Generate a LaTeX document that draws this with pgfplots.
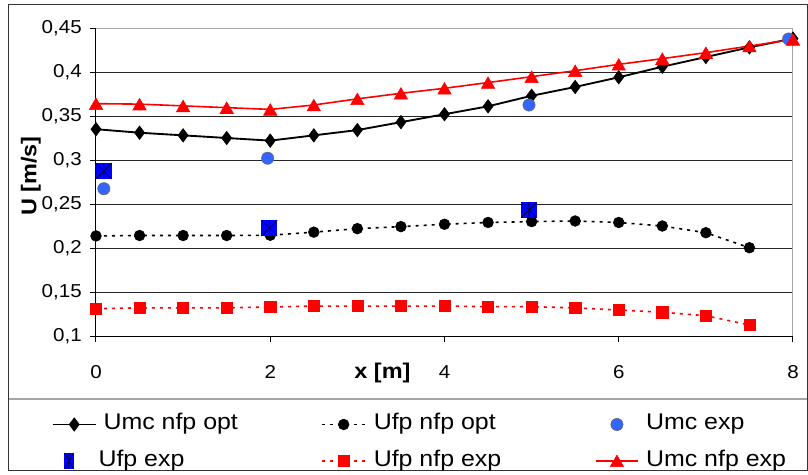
\documentclass[border=0pt]{standalone}
\usepackage{fontspec}
\setmainfont{Liberation Sans}[FakeStretch=1.1]
\usepackage{pgfplots}
\pgfplotsset{compat=1.18}
\definecolor{expblue}{RGB}{51,102,255}
\definecolor{sqblue}{RGB}{0,0,255}
\pgfdeclareplotmark{sqast}{%
  \pgfpathrectangle{\pgfqpoint{-\pgfplotmarksize}{-\pgfplotmarksize}}{\pgfqpoint{2\pgfplotmarksize}{2\pgfplotmarksize}}%
  \pgfusepath{fill}%
  \pgfpathmoveto{\pgfqpoint{-\pgfplotmarksize}{-\pgfplotmarksize}}%
  \pgfpathlineto{\pgfqpoint{\pgfplotmarksize}{\pgfplotmarksize}}%
  \pgfpathmoveto{\pgfqpoint{-\pgfplotmarksize}{\pgfplotmarksize}}%
  \pgfpathlineto{\pgfqpoint{\pgfplotmarksize}{-\pgfplotmarksize}}%
  \pgfpathmoveto{\pgfqpoint{0pt}{-\pgfplotmarksize}}%
  \pgfpathlineto{\pgfqpoint{0pt}{\pgfplotmarksize}}%
  \pgfusepath{stroke}%
}
\begin{document}
\begin{tikzpicture}
\path[use as bounding box] (-72pt,-104.25pt) rectangle (534pt,252pt);
\fill[white] (-72pt,-104.25pt) rectangle (534pt,252pt);
\draw[black!80, line width=0.75pt] (-65.25pt,-100.5pt) rectangle (533.25pt,248.25pt);
\draw[gray!70, line width=1.2pt] (-65.25pt,-47.25pt) -- (533.25pt,-47.25pt);
\begin{axis}[
  at={(0pt,0pt)}, anchor=south west, scale only axis,
  width=522.75pt, height=231pt,
  xmin=0, xmax=8, ymin=0.1, ymax=0.45,
  xtick={0,2,4,6,8},
  ytick={0.1,0.15,0.2,0.25,0.3,0.35,0.4,0.45},
  axis x line*=bottom, axis y line*=left,
  tick align=outside, major tick length=4.5pt,
  axis line style={black, line width=0.75pt},
  major tick style={black, line width=0.75pt},
  ymajorgrids=true,
  major grid style={black!85, line width=0.75pt},
  clip=false,
  tick label style={font=\fontsize{14}{17}\selectfont},
  /pgf/number format/assume math mode=true,
  /pgf/number format/use comma,
  yticklabel style={xshift=-2.7pt},
  xticklabel style={yshift=-14pt},
  xlabel={x [m]},
  xlabel style={at={(axis description cs:0.411,-0.120)}, anchor=center, font=\fontsize{16}{19}\selectfont\bfseries},
  ylabel={U [m/s]},
  ylabel style={at={(axis description cs:-0.0933,0.519)}, anchor=center, font=\fontsize{16}{19}\selectfont\bfseries},
  legend columns=3,
  legend style={at={(axis description cs:-0.06313,-0.257)}, anchor=north west,
    draw=none, fill=none, inner sep=0pt, outer sep=0pt,
    column sep=0pt, row sep=13.25pt,
    nodes={inner sep=0pt, text height=11pt, text depth=3pt},
    cells={anchor=center},
    font=\fontsize{17}{20}\selectfont},
  legend image code/.code={\draw[mark repeat=2, mark phase=2, #1] plot coordinates {(0pt,0pt) (16pt,0pt) (32pt,0pt)};},
]
\draw[gray!70, line width=0.75pt] (rel axis cs:0,1) -- (rel axis cs:1,1) -- (rel axis cs:1,0);

% Umc nfp opt
\addplot[black, line width=1.4pt, mark=diamond*, mark size=5pt, mark options={solid, fill=black, line width=0.5pt}] table {
x y
0 0.335
0.5 0.331
1 0.328
1.5 0.325
2 0.322
2.5 0.328
3 0.334
3.5 0.343
4 0.352
4.5 0.361
5 0.373
5.5 0.383
6 0.394
6.5 0.406
7 0.417
7.5 0.428
8 0.438
};
\addlegendentry{\hspace*{5.25pt}\makebox[163.5pt][l]{Umc nfp opt}}

% Ufp nfp opt
\addplot[black, line width=1.2pt, dash pattern=on 2.25pt off 3.75pt, mark=*, mark size=4pt, mark options={solid, fill=black, line width=0.5pt}] table {
x y
0 0.2137
0.5 0.2142
1 0.2142
1.5 0.2142
2 0.2145
2.5 0.218
3 0.222
3.5 0.2243
4 0.227
4.5 0.229
5 0.230
5.5 0.2307
6 0.229
6.5 0.225
7 0.2174
7.5 0.2003
};
\addlegendentry{\hspace*{6pt}\makebox[165.75pt][l]{Ufp nfp opt}}

% Umc exp
\addplot[only marks, mark=*, mark size=4.6pt, mark options={fill=expblue, draw=black!60, line width=0.4pt}] table {
x y
0.09 0.2674
1.97 0.302
4.97 0.3625
7.95 0.4375
};
\addlegendentry{\hspace*{5.25pt}\makebox[110pt][l]{Umc exp}}

% Ufp exp
\addplot[only marks, mark=sqast, mark size=6pt, mark options={fill=sqblue, draw=black, line width=0.4pt},
  legend image code/.code={%
    \path[draw=none, fill=none] (0pt,0pt) rectangle (32pt,0.1pt);
    \fill[sqblue, draw=none] (8.5pt,-6pt) rectangle (15.5pt,6pt);
    \draw[black, line width=0.3pt] (8.5pt,-6pt) -- (15.5pt,6pt) (8.5pt,6pt) -- (15.5pt,-6pt) (12pt,-6pt) -- (12pt,6pt);}] table {
x y
0.09 0.2875
1.99 0.2225
4.97 0.2432
};
\addlegendentry{\hspace*{1.5pt}\makebox[167.25pt][l]{Ufp exp}}

% Ufp nfp exp
\addplot[red, line width=1.2pt, dash pattern=on 2.25pt off 3.75pt, mark=square*, mark size=4.2pt, mark options={solid, fill=red, line width=0.4pt}] table {
x y
0 0.131
0.5 0.132
1 0.132
1.5 0.132
2 0.133
2.5 0.134
3 0.134
3.5 0.134
4 0.134
4.5 0.1333
5 0.1333
5.5 0.132
6 0.1295
6.5 0.127
7 0.123
7.5 0.1125
};
\addlegendentry{\hspace*{6pt}\makebox[165.75pt][l]{Ufp nfp exp}}

% Umc nfp exp
\addplot[red, line width=1.2pt, mark=triangle*, mark size=5.8pt, mark options={solid, fill=red, line width=0.4pt, yshift=-1.5pt}] table {
x y
0 0.364
0.5 0.3635
1 0.3615
1.5 0.3595
2 0.3575
2.5 0.3625
3 0.3695
3.5 0.3758
4 0.3815
4.5 0.388
5 0.3947
5.5 0.4015
6 0.4087
6.5 0.4152
7 0.422
7.5 0.4295
8 0.437
};
\addlegendentry{\hspace*{5.25pt}\makebox[110pt][l]{Umc nfp exp}}
\end{axis}
\end{tikzpicture}
\end{document}
